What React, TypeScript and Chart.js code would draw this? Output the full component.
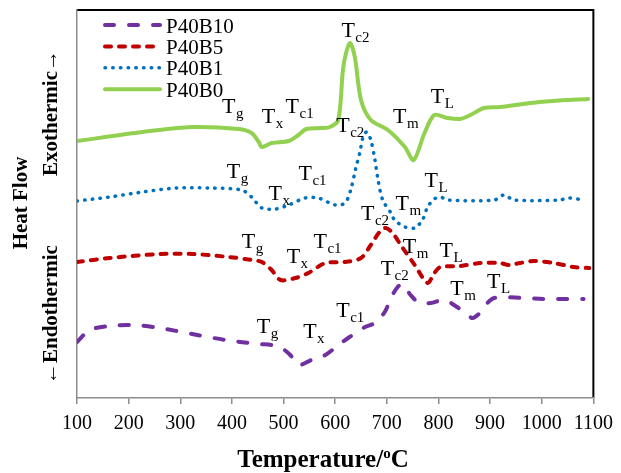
import React, { useEffect, useRef } from 'react';
import { Chart, registerables } from 'chart.js';

Chart.register(...registerables);

// ---- data ----
const seriesNames = ['P40B10', 'P40B5', 'P40B1', 'P40B0'];
const seriesColors = ['#7030A0', '#C00000', '#0070C0', '#92D050'];

const tempB10 = [100, 125, 163, 208, 260, 323, 388, 452, 477, 496, 513, 529, 554, 581, 606, 625, 658, 677, 696, 708, 721, 731, 746, 763, 785, 811, 836, 856, 866, 878, 888, 908, 965, 1004, 1081];
const heatB10 = [56, 68, 72, 73, 70, 64, 58, 54, 53, 50, 43, 33, 38, 43, 53, 60, 71, 75, 86, 100, 111, 114, 103, 95, 95, 98, 91, 83, 80, 84, 91, 100, 100, 99, 99];

const tempB5 = [100, 163, 260, 323, 394, 438, 458, 477, 494, 523, 548, 581, 619, 650, 669, 686, 698, 711, 727, 754, 779, 792, 804, 842, 881, 919, 937, 958, 985, 1023, 1062, 1092];
const heatB5 = [136, 140, 144, 144, 141, 138, 136, 128, 118, 120, 125, 135, 136, 140, 153, 166, 170, 165, 153, 133, 115, 125, 131, 132, 135, 135, 133, 135, 137, 135, 131, 130];

const tempB1 = [100, 163, 227, 292, 356, 419, 438, 458, 485, 510, 542, 567, 600, 619, 630, 640, 648, 654, 661, 669, 677, 683, 692, 708, 715, 735, 754, 769, 779, 792, 804, 817, 908, 927, 946, 1035, 1052, 1081];
const heatB1 = [197, 201, 206, 210, 210, 208, 201, 190, 189, 193, 200, 200, 193, 195, 208, 230, 246, 261, 266, 258, 238, 218, 198, 185, 178, 171, 170, 178, 191, 199, 201, 198, 198, 203, 198, 198, 200, 198];

const tempB0 = [100, 227, 323, 413, 438, 452, 458, 477, 510, 529, 544, 573, 590, 606, 615, 621, 629, 638, 650, 669, 702, 735, 752, 773, 792, 817, 842, 862, 888, 919, 996, 1090];
const heatB0 = [257, 266, 271, 269, 265, 256, 251, 255, 257, 263, 269, 270, 271, 278, 328, 345, 355, 341, 298, 278, 268, 251, 238, 265, 283, 280, 279, 283, 290, 291, 296, 299];

const xTicks = [100, 200, 300, 400, 500, 600, 700, 800, 900, 1000, 1100];

// transition labels (subscripts) and where they sit (temperature, heat flow of baseline)
const labelSubs = ['g', 'x', 'c1', 'c2', 'm', 'L'];
const labelTempB10 = [448, 538, 602, 688, 823, 894];
const labelHeatB10 = [65, 60, 81, 123, 103, 110];
const labelTempB5 = [419, 506, 558, 650, 731, 802];
const labelHeatB5 = [150, 135, 150, 178, 145, 141];
const labelTempB1 = [390, 471, 529, 602, 717, 773];
const labelHeatB1 = [220, 198, 218, 266, 188, 211];
const labelTempB0 = [381, 458, 504, 612, 712, 785];
const labelHeatB0 = [285, 275, 285, 361, 275, 295];

const xTitle = 'Temperature/';
const yTitle1 = 'Heat Flow';
const yTitle2a = '\u2190Endothermic';
const yTitle2b = 'Exothermic\u2192';

const SERIF = '"Liberation Serif", "Times New Roman", serif';

const styles = [
  { borderWidth: 4, borderDash: [9, 15] },
  { borderWidth: 4, borderDash: [6, 8] },
  { borderWidth: 3.5, borderDash: [0.5, 7.2] },
  { borderWidth: 4, borderDash: [] as number[] },
];

function pts(t: number[], h: number[]) {
  return t.map((v, i) => ({ x: v, y: h[i] }));
}

export default function App() {
  const ref = useRef<HTMLCanvasElement | null>(null);

  useEffect(() => {
    if (!ref.current) return;
    const temps = [tempB10, tempB5, tempB1, tempB0];
    const heats = [heatB10, heatB5, heatB1, heatB0];
    const lblT = [labelTempB10, labelTempB5, labelTempB1, labelTempB0];
    const lblH = [labelHeatB10, labelHeatB5, labelHeatB1, labelHeatB0];

    const framePlugin = {
      id: 'frame',
      beforeDraw(chart: any) {
        const { ctx, chartArea: a } = chart;
        ctx.save();
        ctx.strokeStyle = '#000';
        ctx.lineWidth = 2;
        ctx.beginPath();
        ctx.moveTo(a.left, a.top);
        ctx.lineTo(a.right, a.top);
        ctx.lineTo(a.right, a.bottom);
        ctx.stroke();
        ctx.restore();
      },
    };

    const labelsPlugin = {
      id: 'tlabels',
      afterDatasetsDraw(chart: any) {
        const { ctx, scales } = chart;
        ctx.save();
        ctx.fillStyle = '#000';
        ctx.textBaseline = 'alphabetic';
        ctx.textAlign = 'left';
        for (let s = 0; s < 4; s++) {
          for (let k = 0; k < labelSubs.length; k++) {
            const x = scales.x.getPixelForValue(lblT[s][k]);
            const y = scales.y.getPixelForValue(lblH[s][k]);
            ctx.font = `22px ${SERIF}`;
            ctx.fillText('T', x, y);
            const w = ctx.measureText('T').width;
            ctx.font = `15px ${SERIF}`;
            ctx.fillText(labelSubs[k], x + w + 0.5, y + 5);
          }
        }
        ctx.restore();
      },
    };

    const decorPlugin = {
      id: 'decor',
      afterDraw(chart: any) {
        const { ctx, chartArea: a } = chart;
        ctx.save();
        // legend
        for (let i = 0; i < 4; i++) {
          const cy = 25 + i * 21.4;
          ctx.strokeStyle = seriesColors[i];
          ctx.lineWidth = styles[i].borderWidth;
          ctx.lineCap = 'round';
          ctx.setLineDash(styles[i].borderDash);
          ctx.beginPath();
          ctx.moveTo(a.left + 28, cy);
          ctx.lineTo(a.left + 83, cy);
          ctx.stroke();
          ctx.setLineDash([]);
          ctx.fillStyle = '#000';
          ctx.font = `21px ${SERIF}`;
          ctx.textBaseline = 'alphabetic';
          ctx.textAlign = 'left';
          ctx.fillText(seriesNames[i], a.left + 89, cy + 7.5);
        }
        // x title
        ctx.font = `bold 25px ${SERIF}`;
        const w1 = ctx.measureText(xTitle).width;
        ctx.font = `bold 15px ${SERIF}`;
        const w2 = ctx.measureText('o').width;
        ctx.font = `bold 25px ${SERIF}`;
        const w3 = ctx.measureText('C').width;
        const total = w1 + w2 + w3;
        const x0 = 323 - total / 2;
        const by = 467;
        ctx.fillText(xTitle, x0, by);
        ctx.font = `bold 15px ${SERIF}`;
        ctx.fillText('o', x0 + w1, by - 9);
        ctx.font = `bold 25px ${SERIF}`;
        ctx.fillText('C', x0 + w1 + w2, by);
        // y titles
        ctx.font = `bold 21px ${SERIF}`;
        ctx.textAlign = 'center';
        ctx.save();
        ctx.translate(27, 203);
        ctx.rotate(-Math.PI / 2);
        ctx.fillText(yTitle1, 0, 0);
        ctx.restore();
        ctx.save();
        ctx.translate(57, 384);
        ctx.rotate(-Math.PI / 2);
        ctx.textAlign = 'left';
        ctx.fillText(yTitle2a, 0, 0);
        ctx.restore();
        ctx.save();
        ctx.translate(57, 50);
        ctx.rotate(-Math.PI / 2);
        ctx.textAlign = 'right';
        ctx.fillText(yTitle2b, 0, 0);
        ctx.restore();
        ctx.restore();
      },
    };

    const chart = new Chart(ref.current, {
      type: 'line',
      data: {
        datasets: seriesNames.map((name, i) => ({
          label: name,
          data: pts(temps[i], heats[i]),
          borderColor: seriesColors[i],
          backgroundColor: seriesColors[i],
          borderWidth: styles[i].borderWidth,
          borderDash: styles[i].borderDash,
          borderCapStyle: 'round',
          borderJoinStyle: 'round',
          pointRadius: 0,
          fill: false,
          tension: 0.3,
        })) as any,
      },
      options: {
        responsive: false,
        animation: false,
        layout: { padding: { left: 0, top: 10, right: 24, bottom: 0 } },
        plugins: { legend: { display: false }, tooltip: { enabled: false } },
        scales: {
          x: {
            type: 'linear',
            min: 100,
            max: 1100,
            afterBuildTicks: (scale: any) => {
              scale.ticks = xTicks.map((v) => ({ value: v }));
            },
            afterFit: (scale: any) => {
              scale.height = 75;
            },
            ticks: {
              color: '#000',
              font: { family: SERIF, size: 20 },
              padding: 8,
              maxRotation: 0,
              autoSkip: false,
              callback: (v: any) => String(v),
            },
            grid: {
              display: true,
              drawOnChartArea: false,
              drawTicks: true,
              tickLength: 6,
              color: '#8c8c8c',
              lineWidth: 1.5,
            },
            border: { display: true, color: '#8c8c8c', width: 1.5 },
          },
          y: {
            type: 'linear',
            min: 0,
            max: 388,
            afterFit: (scale: any) => {
              scale.width = 77;
            },
            ticks: { display: false },
            grid: { display: false, drawTicks: false },
            border: { display: true, color: '#8c8c8c', width: 1.5 },
          },
        },
      } as any,
      plugins: [framePlugin, labelsPlugin, decorPlugin],
    });
    return () => chart.destroy();
  }, []);

  return (
    <div style={{ position: 'fixed', left: 0, top: 0, width: 621, height: 473, background: '#fff' }}>
      <canvas ref={ref} width={621} height={473} style={{ display: 'block' }} />
    </div>
  );
}
